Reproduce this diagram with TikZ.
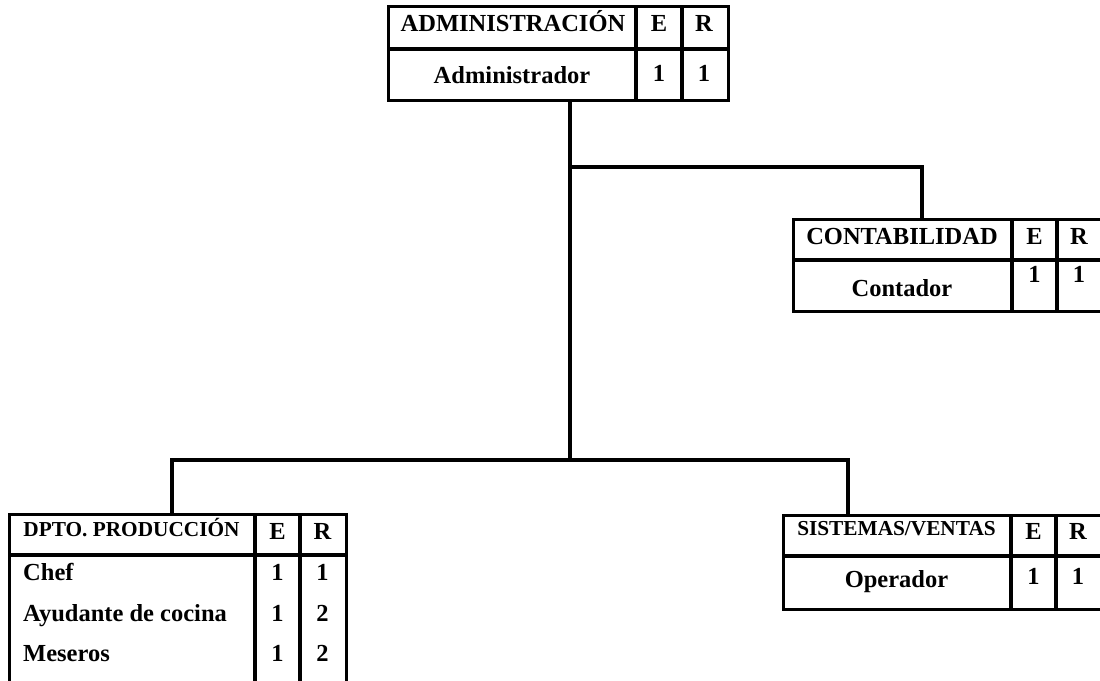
\documentclass[tikz,border=0pt]{standalone}
\usepackage{fontspec}
\setmainfont{Liberation Serif}
\begin{document}
\begin{tikzpicture}[x=1pt,y=-1pt,
  box/.style={draw,line width=3.1pt,rectangle,inner sep=0pt,anchor=north west},
  rule/.style={line width=3.1pt},
  link/.style={line width=3.1pt},
  big/.style={font=\bfseries\fontsize{24.5}{28}\selectfont,inner sep=0pt,anchor=base},
  small/.style={font=\bfseries\fontsize{21.3}{25}\selectfont,inner sep=0pt,anchor=base},
  item/.style={font=\bfseries\fontsize{24.5}{28}\selectfont,inner sep=0pt,anchor=base west}]
\clip (0,0) rectangle (1100,680);
\fill[white] (0,0) rectangle (1100,680);

% ADMINISTRACION
\node[box,minimum width=340pt,minimum height=94pt] (adm) at (387,5) {};
\draw[rule] (387,49) -- (727,49);
\draw[rule] (636,5) -- (636,99);
\draw[rule] (682,5) -- (682,99);
\node[big] (admh) at (513,31) {ADMINISTRACIÓN};
\node[big] (admE) at (659,31) {E};
\node[big] (admR) at (704,31) {R};
\node[big] (adm1) at (512,83) {Administrador};
\node[big] (adm1e) at (659,81) {1};
\node[big] (adm1r) at (704,81) {1};

% CONTABILIDAD
\node[box,minimum width=309pt,minimum height=92pt] (cont) at (792,218) {};
\draw[rule] (792,260) -- (1101,260);
\draw[rule] (1012,218) -- (1012,310);
\draw[rule] (1057,218) -- (1057,310);
\node[big] (conth) at (902,244) {CONTABILIDAD};
\node[big] (contE) at (1034.5,244) {E};
\node[big] (contR) at (1079,244) {R};
\node[big] (cont1) at (902,296) {Contador};
\node[big] (cont1e) at (1034.5,282) {1};
\node[big] (cont1r) at (1079,282) {1};

% DPTO. PRODUCCION
\node[box,minimum width=337pt,minimum height=180pt] (prod) at (8,513) {};
\draw[rule] (8,555) -- (345,555);
\draw[rule] (255,513) -- (255,693);
\draw[rule] (300,513) -- (300,693);
\node[small] (prodh) at (131.5,536) {DPTO. PRODUCCIÓN};
\node[big] (prodE) at (277.5,539) {E};
\node[big] (prodR) at (322.5,539) {R};
\node[item] (prod1) at (23,580) {Chef};
\node[big] (prod1e) at (277.5,580) {1};
\node[big] (prod1r) at (322.5,580) {1};
\node[item] (prod2) at (23,621) {Ayudante de cocina};
\node[big] (prod2e) at (277.5,621) {1};
\node[big] (prod2r) at (322.5,621) {2};
\node[item] (prod3) at (23,661) {Meseros};
\node[big] (prod3e) at (277.5,661) {1};
\node[big] (prod3r) at (322.5,661) {2};

% SISTEMAS/VENTAS
\node[box,minimum width=320pt,minimum height=94pt] (sis) at (782,514) {};
\draw[rule] (782,556) -- (1102,556);
\draw[rule] (1011,514) -- (1011,608);
\draw[rule] (1056,514) -- (1056,608);
\node[small] (sish) at (896.5,535) {SISTEMAS/VENTAS};
\node[big] (sisE) at (1033.5,539) {E};
\node[big] (sisR) at (1078,539) {R};
\node[big] (sis1) at (896.5,587) {Operador};
\node[big] (sis1e) at (1033.5,584) {1};
\node[big] (sis1r) at (1078,584) {1};

% connectors
\coordinate (j1) at (570,167);
\coordinate (j2) at (570,460);
\coordinate (conttop) at (922,218);
\coordinate (prodtop) at (172,513);
\coordinate (sistop) at (848,514);
\draw[link] (adm.south -| j1) -- (j2);
\draw[link] (j1) -| (conttop);
\draw[link] (j2) -| (prodtop);
\draw[link] (j2) -| (sistop);
\end{tikzpicture}
\end{document}
